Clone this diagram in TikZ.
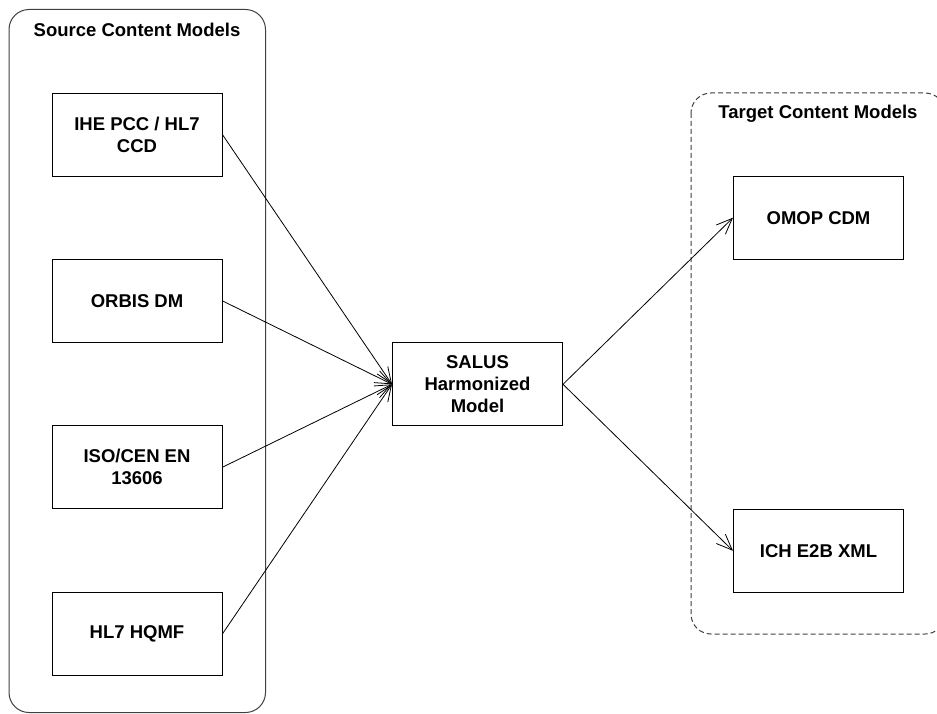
\documentclass[tikz,border=0pt]{standalone}
\usepackage{fontspec}
\setmainfont{Liberation Sans}
\usetikzlibrary{arrows.meta}
\tikzset{
  modelbox/.style={draw=black, line width=1pt, minimum width=170pt, minimum height=83pt,
    inner sep=0pt, align=center, font=\bfseries\fontsize{18.5}{21.7}\selectfont},
  grouptitle/.style={inner sep=0pt, font=\bfseries\fontsize{18.5}{21.7}\selectfont},
  container/.style={draw=black!75, line width=1pt, rounded corners=20pt},
  flow/.style={line width=0.8pt, -{Straight Barb[length=16pt,width=13pt,line width=0.8pt]}}
}
\begin{document}
\begin{tikzpicture}[x=1pt,y=-1pt]
\clip (0,0) rectangle (937,714);
\fill[white] (0,0) rectangle (937,714);
% containers
\draw[container] (9,9.5) rectangle (265.5,712.5);
\draw[container, dash pattern=on 5pt off 3pt] (691,93) rectangle (945,634);
\node[grouptitle] (srctitle) at (137,29.5) {Source Content Models};
\node[grouptitle] (tgttitle) at (818,113.5) {Target Content Models};
% source boxes
\node[modelbox] (ihe) at (137,134.7) {IHE PCC / HL7\\CCD};
\node[modelbox] (orbis) at (137,300.9) {ORBIS DM};
\node[modelbox] (iso) at (137,467.2) {ISO/CEN EN\\13606};
\node[modelbox] (hqmf) at (137,633.8) {HL7 HQMF};
% central
\node[modelbox] (salus) at (477.5,384.3) {SALUS\\Harmonized\\Model};
% targets
\node[modelbox] (omop) at (818.5,217.7) {OMOP CDM};
\node[modelbox] (ich) at (818.5,550.8) {ICH E2B XML};
% connectors
\draw[flow] (ihe.east) -- (salus.west);
\draw[flow] (orbis.east) -- (salus.west);
\draw[flow] (iso.east) -- (salus.west);
\draw[flow] (hqmf.east) -- (salus.west);
\draw[flow] (salus.east) -- (omop.west);
\draw[flow] (salus.east) -- (ich.west);
\end{tikzpicture}
\end{document}
